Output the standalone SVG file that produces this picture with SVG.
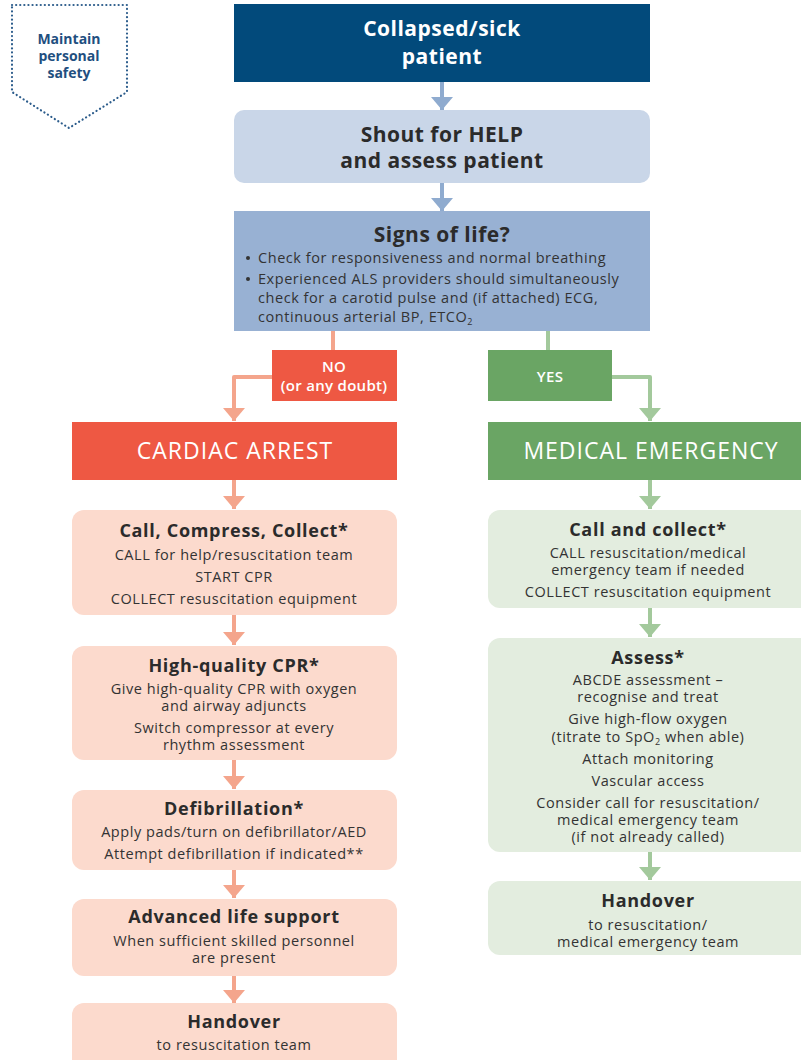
<svg xmlns="http://www.w3.org/2000/svg" width="801" height="1060" viewBox="0 0 801 1060">
<defs>
<style>
text{font-family:"Open Sans","Noto Sans","Liberation Sans",sans-serif;text-anchor:middle;fill:#333333;}
.t{font-size:21px;font-weight:bold;fill:#2b2b2b;letter-spacing:0.5px;}
.tw{font-size:21px;font-weight:bold;fill:#ffffff;letter-spacing:0.5px;}
.h{font-size:18px;font-weight:bold;fill:#2b2b2b;letter-spacing:0.7px;}
.b{font-size:14.5px;letter-spacing:0.55px;}
.big{font-size:23px;fill:#ffffff;letter-spacing:1px;}
.lab{font-size:15px;fill:#ffffff;font-weight:600;letter-spacing:0.3px;}
.cb{fill:none;stroke:#8fabcf;stroke-width:4;}
.cr{fill:none;stroke:#f4a58c;stroke-width:4;stroke-linejoin:round;}
.cg{fill:none;stroke:#a3c99c;stroke-width:4;stroke-linejoin:round;}
.sal{fill:#fcdacd;}
.grn{fill:#e3eddf;}
</style>
<marker id="ab" viewBox="0 0 13 22" markerWidth="13" markerHeight="22" refX="13" refY="11" orient="auto" markerUnits="userSpaceOnUse"><path d="M0,0 L13,11 L0,22 z" fill="#8fabcf"/></marker>
<marker id="ar" viewBox="0 0 13 22" markerWidth="13" markerHeight="22" refX="13" refY="11" orient="auto" markerUnits="userSpaceOnUse"><path d="M0,0 L13,11 L0,22 z" fill="#f4a58c"/></marker>
<marker id="ag" viewBox="0 0 13 22" markerWidth="13" markerHeight="22" refX="13" refY="11" orient="auto" markerUnits="userSpaceOnUse"><path d="M0,0 L13,11 L0,22 z" fill="#a3c99c"/></marker>
</defs>
<rect width="801" height="1060" fill="#ffffff"/>

<g id="connectors">
<path class="cb" d="M442,82 V110" marker-end="url(#ab)"/>
<path class="cb" d="M442,183 V211" marker-end="url(#ab)"/>
<path class="cr" d="M333,331 V377 H234 V421" marker-end="url(#ar)"/>
<path class="cg" d="M548,331 V377 H650 V421" marker-end="url(#ag)"/>
<path class="cr" d="M234,480 V509" marker-end="url(#ar)"/>
<path class="cr" d="M234,615 V645" marker-end="url(#ar)"/>
<path class="cr" d="M234,760 V789" marker-end="url(#ar)"/>
<path class="cr" d="M234,870 V898" marker-end="url(#ar)"/>
<path class="cr" d="M234,976 V1003" marker-end="url(#ar)"/>
<path class="cg" d="M650,480 V509" marker-end="url(#ag)"/>
<path class="cg" d="M650,608 V637" marker-end="url(#ag)"/>
<path class="cg" d="M650,852 V880" marker-end="url(#ag)"/>
</g>

<g id="safety">
<path d="M12,5 H127 V92 L69,128 L12,92 Z" fill="none" stroke="#2d5d8c" stroke-width="2.2" stroke-dasharray="0.1 4" stroke-linecap="round"/>
<text x="69" y="44" style="font-size:14px;font-weight:bold;fill:#1f4f80">Maintain</text>
<text x="69" y="61" style="font-size:14px;font-weight:bold;fill:#1f4f80">personal</text>
<text x="69" y="78" style="font-size:14px;font-weight:bold;fill:#1f4f80">safety</text>
</g>

<g id="collapsed">
<rect x="234" y="4" width="416" height="78" fill="#024a7b"/>
<text class="tw" x="442" y="36">Collapsed/sick</text>
<text class="tw" x="442" y="64">patient</text>
</g>

<g id="shout">
<rect x="234" y="110" width="416" height="73" rx="10" fill="#c9d6e8"/>
<text class="t" x="442" y="142">Shout for HELP</text>
<text class="t" x="442" y="168">and assess patient</text>
</g>

<g id="signs">
<rect x="234" y="211" width="416" height="120" fill="#98b1d3"/>
<text class="t" x="442" y="242">Signs of life?</text>
<circle cx="248" cy="258" r="2" fill="#333333"/>
<circle cx="248" cy="279" r="2" fill="#333333"/>
<text class="b" x="258" y="263" style="text-anchor:start">Check for responsiveness and normal breathing</text>
<text class="b" x="258" y="284" style="text-anchor:start">Experienced ALS providers should simultaneously</text>
<text class="b" x="258" y="303" style="text-anchor:start">check for a carotid pulse and (if attached) ECG,</text>
<text class="b" x="258" y="322" style="text-anchor:start">continuous arterial BP, ETCO<tspan style="font-size:9px" dy="3">2</tspan></text>
</g>

<g id="no">
<rect x="272" y="350" width="125" height="51" fill="#ee5843"/>
<text class="lab" x="334" y="372">NO</text>
<text class="lab" x="334" y="391">(or any doubt)</text>
</g>

<g id="yes">
<rect x="488" y="350" width="124" height="51" fill="#6aa564"/>
<text class="lab" x="550" y="382">YES</text>
</g>

<g id="cardiac-arrest">
<rect x="72" y="422" width="325" height="58" fill="#ee5843"/>
<text class="big" x="235" y="459">CARDIAC ARREST</text>
</g>

<g id="medical-emergency">
<rect x="488" y="422" width="330" height="58" fill="#6aa564"/>
<text class="big" x="651" y="459">MEDICAL EMERGENCY</text>
</g>

<g id="ccc">
<rect class="sal" x="72" y="510" width="325" height="105" rx="12"/>
<text class="h" x="234" y="537">Call, Compress, Collect*</text>
<text class="b" x="234" y="560">CALL for help/resuscitation team</text>
<text class="b" x="234" y="582">START CPR</text>
<text class="b" x="234" y="604">COLLECT resuscitation equipment</text>
</g>

<g id="hq-cpr">
<rect class="sal" x="72" y="646" width="325" height="114" rx="12"/>
<text class="h" x="234" y="672">High-quality CPR*</text>
<text class="b" x="234" y="694">Give high-quality CPR with oxygen</text>
<text class="b" x="234" y="711">and airway adjuncts</text>
<text class="b" x="234" y="733">Switch compressor at every</text>
<text class="b" x="234" y="750">rhythm assessment</text>
</g>

<g id="defib">
<rect class="sal" x="72" y="790" width="325" height="80" rx="12"/>
<text class="h" x="234" y="815">Defibrillation*</text>
<text class="b" x="234" y="837">Apply pads/turn on defibrillator/AED</text>
<text class="b" x="234" y="859">Attempt defibrillation if indicated**</text>
</g>

<g id="als">
<rect class="sal" x="72" y="899" width="325" height="77" rx="12"/>
<text class="h" x="234" y="923">Advanced life support</text>
<text class="b" x="234" y="946">When sufficient skilled personnel</text>
<text class="b" x="234" y="963">are present</text>
</g>

<g id="handover-ca">
<rect class="sal" x="72" y="1003" width="325" height="80" rx="12"/>
<text class="h" x="234" y="1028">Handover</text>
<text class="b" x="234" y="1050">to resuscitation team</text>
</g>

<g id="call-collect">
<rect class="grn" x="488" y="510" width="330" height="98" rx="12"/>
<text class="h" x="648" y="536">Call and collect*</text>
<text class="b" x="648" y="558">CALL resuscitation/medical</text>
<text class="b" x="648" y="575">emergency team if needed</text>
<text class="b" x="648" y="597">COLLECT resuscitation equipment</text>
</g>

<g id="assess">
<rect class="grn" x="488" y="638" width="330" height="214" rx="12"/>
<text class="h" x="648" y="664">Assess*</text>
<text class="b" x="648" y="685">ABCDE assessment –</text>
<text class="b" x="648" y="702">recognise and treat</text>
<text class="b" x="648" y="724">Give high-flow oxygen</text>
<text class="b" x="648" y="742">(titrate to SpO<tspan style="font-size:9px" dy="3">2</tspan><tspan dy="-3"> when able)</tspan></text>
<text class="b" x="648" y="764">Attach monitoring</text>
<text class="b" x="648" y="786">Vascular access</text>
<text class="b" x="648" y="808">Consider call for resuscitation/</text>
<text class="b" x="648" y="825">medical emergency team</text>
<text class="b" x="648" y="842">(if not already called)</text>
</g>

<g id="handover-me">
<rect class="grn" x="488" y="881" width="330" height="74" rx="12"/>
<text class="h" x="648" y="907">Handover</text>
<text class="b" x="648" y="930">to resuscitation/</text>
<text class="b" x="648" y="947">medical emergency team</text>
</g>
</svg>
